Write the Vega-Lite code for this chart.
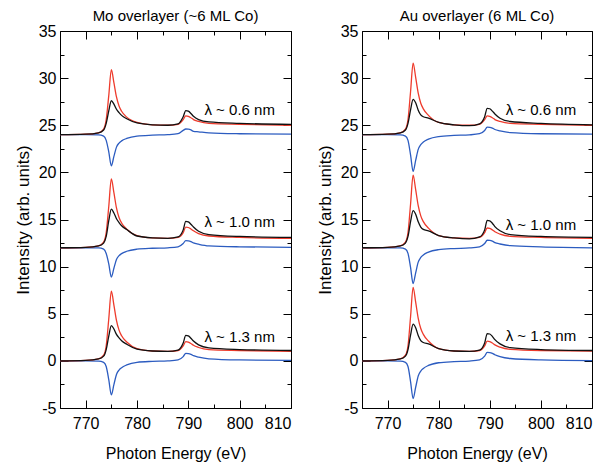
{
"$schema":"https://vega.github.io/schema/vega-lite/v6.json",
"background":"white",
"padding":{"left":13,"top":8,"right":5,"bottom":5},
"spacing":20,
"config":{"font":"Liberation Sans","view":{"stroke":"black","strokeWidth":1},
"axis":{"domain":false,"grid":false,"tickColor":"black","labelColor":"black","titleColor":"black","labelFontSize":16,"titleFontSize":17,"titleFontWeight":"normal","tickWidth":1,"labelFont":"Liberation Sans","titleFont":"Liberation Sans"},
"title":{"fontSize":15,"fontWeight":"normal","offset":-1,"frame":"group","font":"Liberation Sans","color":"black"}},
"datasets":{
"mo":[
{"g":24,"c":"b","x":765,"y":24},{"g":24,"c":"b","x":770,"y":24},{"g":24,"c":"b","x":772.5,"y":23.98},{"g":24,"c":"b","x":773.5,"y":23.85},{"g":24,"c":"b","x":774,"y":23.4},{"g":24,"c":"b","x":774.5,"y":22.18},{"g":24,"c":"b","x":775,"y":20.7},{"g":24,"c":"b","x":775.5,"y":21.69},{"g":24,"c":"b","x":776,"y":22.68},{"g":24,"c":"b","x":776.5,"y":23.11},{"g":24,"c":"b","x":777,"y":23.34},{"g":24,"c":"b","x":778,"y":23.6},{"g":24,"c":"b","x":780,"y":23.85},{"g":24,"c":"b","x":783,"y":23.95},{"g":24,"c":"b","x":786,"y":24},{"g":24,"c":"b","x":788,"y":24.1},{"g":24,"c":"b","x":789,"y":24.45},{"g":24,"c":"b","x":789.5,"y":24.6},{"g":24,"c":"b","x":790,"y":24.58},{"g":24,"c":"b","x":790.5,"y":24.5},{"g":24,"c":"b","x":791,"y":24.35},{"g":24,"c":"b","x":792,"y":24.3},{"g":24,"c":"b","x":794,"y":24.2},{"g":24,"c":"b","x":800,"y":24.1},{"g":24,"c":"b","x":810,"y":24.05},
{"g":24,"c":"r","x":765,"y":24},{"g":24,"c":"r","x":770,"y":24.05},{"g":24,"c":"r","x":772.5,"y":24.2},{"g":24,"c":"r","x":773.5,"y":24.6},{"g":24,"c":"r","x":774,"y":25.6},{"g":24,"c":"r","x":774.5,"y":28.14},{"g":24,"c":"r","x":775,"y":30.9},{"g":24,"c":"r","x":775.5,"y":29.52},{"g":24,"c":"r","x":776,"y":28},{"g":24,"c":"r","x":776.5,"y":27.04},{"g":24,"c":"r","x":777,"y":26.48},{"g":24,"c":"r","x":778,"y":25.86},{"g":24,"c":"r","x":780,"y":25.3},{"g":24,"c":"r","x":783,"y":25.05},{"g":24,"c":"r","x":786,"y":25},{"g":24,"c":"r","x":788,"y":25.1},{"g":24,"c":"r","x":789,"y":25.6},{"g":24,"c":"r","x":789.5,"y":26},{"g":24,"c":"r","x":790,"y":25.95},{"g":24,"c":"r","x":790.5,"y":25.8},{"g":24,"c":"r","x":791,"y":25.6},{"g":24,"c":"r","x":792,"y":25.4},{"g":24,"c":"r","x":794,"y":25.2},{"g":24,"c":"r","x":800,"y":25.1},{"g":24,"c":"r","x":810,"y":25},
{"g":24,"c":"k","x":765,"y":24},{"g":24,"c":"k","x":770,"y":24.05},{"g":24,"c":"k","x":772.5,"y":24.2},{"g":24,"c":"k","x":773.5,"y":24.5},{"g":24,"c":"k","x":774,"y":25.2},{"g":24,"c":"k","x":774.5,"y":26.52},{"g":24,"c":"k","x":775,"y":27.6},{"g":24,"c":"k","x":775.5,"y":27.24},{"g":24,"c":"k","x":776,"y":26.7},{"g":24,"c":"k","x":776.5,"y":26.34},{"g":24,"c":"k","x":777,"y":26.05},{"g":24,"c":"k","x":778,"y":25.69},{"g":24,"c":"k","x":780,"y":25.25},{"g":24,"c":"k","x":783,"y":25.05},{"g":24,"c":"k","x":786,"y":25},{"g":24,"c":"k","x":788,"y":25.15},{"g":24,"c":"k","x":789,"y":25.9},{"g":24,"c":"k","x":789.5,"y":26.55},{"g":24,"c":"k","x":790,"y":26.5},{"g":24,"c":"k","x":790.5,"y":26.25},{"g":24,"c":"k","x":791,"y":25.95},{"g":24,"c":"k","x":792,"y":25.6},{"g":24,"c":"k","x":794,"y":25.35},{"g":24,"c":"k","x":800,"y":25.2},{"g":24,"c":"k","x":810,"y":25.1},
{"g":12,"c":"b","x":765,"y":12},{"g":12,"c":"b","x":770,"y":12},{"g":12,"c":"b","x":772.5,"y":11.98},{"g":12,"c":"b","x":773.5,"y":11.85},{"g":12,"c":"b","x":774,"y":11.4},{"g":12,"c":"b","x":774.5,"y":10.29},{"g":12,"c":"b","x":775,"y":8.9},{"g":12,"c":"b","x":775.5,"y":9.83},{"g":12,"c":"b","x":776,"y":10.76},{"g":12,"c":"b","x":776.5,"y":11.16},{"g":12,"c":"b","x":777,"y":11.38},{"g":12,"c":"b","x":778,"y":11.63},{"g":12,"c":"b","x":780,"y":11.85},{"g":12,"c":"b","x":783,"y":11.95},{"g":12,"c":"b","x":786,"y":12},{"g":12,"c":"b","x":788,"y":12.1},{"g":12,"c":"b","x":789,"y":12.45},{"g":12,"c":"b","x":789.5,"y":12.76},{"g":12,"c":"b","x":790,"y":12.74},{"g":12,"c":"b","x":790.5,"y":12.66},{"g":12,"c":"b","x":791,"y":12.51},{"g":12,"c":"b","x":792,"y":12.38},{"g":12,"c":"b","x":794,"y":12.2},{"g":12,"c":"b","x":800,"y":12.1},{"g":12,"c":"b","x":810,"y":12.05},
{"g":12,"c":"r","x":765,"y":12},{"g":12,"c":"r","x":770,"y":12.05},{"g":12,"c":"r","x":772.5,"y":12.2},{"g":12,"c":"r","x":773.5,"y":12.6},{"g":12,"c":"r","x":774,"y":13.6},{"g":12,"c":"r","x":774.5,"y":16.38},{"g":12,"c":"r","x":775,"y":19.3},{"g":12,"c":"r","x":775.5,"y":17.84},{"g":12,"c":"r","x":776,"y":16.23},{"g":12,"c":"r","x":776.5,"y":15.21},{"g":12,"c":"r","x":777,"y":14.63},{"g":12,"c":"r","x":778,"y":13.97},{"g":12,"c":"r","x":780,"y":13.3},{"g":12,"c":"r","x":783,"y":13.05},{"g":12,"c":"r","x":786,"y":13},{"g":12,"c":"r","x":788,"y":13.1},{"g":12,"c":"r","x":789,"y":13.6},{"g":12,"c":"r","x":789.5,"y":14.2},{"g":12,"c":"r","x":790,"y":14.15},{"g":12,"c":"r","x":790.5,"y":14},{"g":12,"c":"r","x":791,"y":13.8},{"g":12,"c":"r","x":792,"y":13.5},{"g":12,"c":"r","x":794,"y":13.25},{"g":12,"c":"r","x":800,"y":13.1},{"g":12,"c":"r","x":810,"y":13},
{"g":12,"c":"k","x":765,"y":12},{"g":12,"c":"k","x":770,"y":12.05},{"g":12,"c":"k","x":772.5,"y":12.2},{"g":12,"c":"k","x":773.5,"y":12.5},{"g":12,"c":"k","x":774,"y":13.2},{"g":12,"c":"k","x":774.5,"y":14.87},{"g":12,"c":"k","x":775,"y":16.1},{"g":12,"c":"k","x":775.5,"y":15.69},{"g":12,"c":"k","x":776,"y":15.08},{"g":12,"c":"k","x":776.5,"y":14.67},{"g":12,"c":"k","x":777,"y":14.34},{"g":12,"c":"k","x":778,"y":13.93},{"g":12,"c":"k","x":780,"y":13.25},{"g":12,"c":"k","x":783,"y":13.05},{"g":12,"c":"k","x":786,"y":13},{"g":12,"c":"k","x":788,"y":13.15},{"g":12,"c":"k","x":789,"y":13.9},{"g":12,"c":"k","x":789.5,"y":14.8},{"g":12,"c":"k","x":790,"y":14.75},{"g":12,"c":"k","x":790.5,"y":14.5},{"g":12,"c":"k","x":791,"y":14.2},{"g":12,"c":"k","x":792,"y":13.75},{"g":12,"c":"k","x":794,"y":13.4},{"g":12,"c":"k","x":800,"y":13.2},{"g":12,"c":"k","x":810,"y":13.1},
{"g":0,"c":"b","x":765,"y":0},{"g":0,"c":"b","x":770,"y":0},{"g":0,"c":"b","x":772.5,"y":-0.02},{"g":0,"c":"b","x":773.5,"y":-0.15},{"g":0,"c":"b","x":774,"y":-0.6},{"g":0,"c":"b","x":774.5,"y":-1.98},{"g":0,"c":"b","x":775,"y":-3.6},{"g":0,"c":"b","x":775.5,"y":-2.52},{"g":0,"c":"b","x":776,"y":-1.44},{"g":0,"c":"b","x":776.5,"y":-0.97},{"g":0,"c":"b","x":777,"y":-0.72},{"g":0,"c":"b","x":778,"y":-0.43},{"g":0,"c":"b","x":780,"y":-0.15},{"g":0,"c":"b","x":783,"y":-0.05},{"g":0,"c":"b","x":786,"y":0},{"g":0,"c":"b","x":788,"y":0.1},{"g":0,"c":"b","x":789,"y":0.45},{"g":0,"c":"b","x":789.5,"y":0.8},{"g":0,"c":"b","x":790,"y":0.78},{"g":0,"c":"b","x":790.5,"y":0.7},{"g":0,"c":"b","x":791,"y":0.55},{"g":0,"c":"b","x":792,"y":0.4},{"g":0,"c":"b","x":794,"y":0.22},{"g":0,"c":"b","x":800,"y":0.1},{"g":0,"c":"b","x":810,"y":0.05},
{"g":0,"c":"r","x":765,"y":0},{"g":0,"c":"r","x":770,"y":0.05},{"g":0,"c":"r","x":772.5,"y":0.2},{"g":0,"c":"r","x":773.5,"y":0.6},{"g":0,"c":"r","x":774,"y":1.6},{"g":0,"c":"r","x":774.5,"y":4.44},{"g":0,"c":"r","x":775,"y":7.4},{"g":0,"c":"r","x":775.5,"y":5.92},{"g":0,"c":"r","x":776,"y":4.29},{"g":0,"c":"r","x":776.5,"y":3.26},{"g":0,"c":"r","x":777,"y":2.66},{"g":0,"c":"r","x":778,"y":2},{"g":0,"c":"r","x":780,"y":1.3},{"g":0,"c":"r","x":783,"y":1.05},{"g":0,"c":"r","x":786,"y":1},{"g":0,"c":"r","x":788,"y":1.1},{"g":0,"c":"r","x":789,"y":1.6},{"g":0,"c":"r","x":789.5,"y":2.05},{"g":0,"c":"r","x":790,"y":2},{"g":0,"c":"r","x":790.5,"y":1.85},{"g":0,"c":"r","x":791,"y":1.65},{"g":0,"c":"r","x":792,"y":1.42},{"g":0,"c":"r","x":794,"y":1.2},{"g":0,"c":"r","x":800,"y":1.1},{"g":0,"c":"r","x":810,"y":1},
{"g":0,"c":"k","x":765,"y":0},{"g":0,"c":"k","x":770,"y":0.05},{"g":0,"c":"k","x":772.5,"y":0.2},{"g":0,"c":"k","x":773.5,"y":0.5},{"g":0,"c":"k","x":774,"y":1.2},{"g":0,"c":"k","x":774.5,"y":2.63},{"g":0,"c":"k","x":775,"y":3.75},{"g":0,"c":"k","x":775.5,"y":3.38},{"g":0,"c":"k","x":776,"y":2.81},{"g":0,"c":"k","x":776.5,"y":2.44},{"g":0,"c":"k","x":777,"y":2.14},{"g":0,"c":"k","x":778,"y":1.76},{"g":0,"c":"k","x":780,"y":1.25},{"g":0,"c":"k","x":783,"y":1.05},{"g":0,"c":"k","x":786,"y":1},{"g":0,"c":"k","x":788,"y":1.15},{"g":0,"c":"k","x":789,"y":1.9},{"g":0,"c":"k","x":789.5,"y":2.7},{"g":0,"c":"k","x":790,"y":2.65},{"g":0,"c":"k","x":790.5,"y":2.4},{"g":0,"c":"k","x":791,"y":2.1},{"g":0,"c":"k","x":792,"y":1.7},{"g":0,"c":"k","x":794,"y":1.38},{"g":0,"c":"k","x":800,"y":1.2},{"g":0,"c":"k","x":810,"y":1.1}
],
"au":[
{"g":24,"c":"b","x":765,"y":24},{"g":24,"c":"b","x":770,"y":24},{"g":24,"c":"b","x":772.5,"y":23.98},{"g":24,"c":"b","x":773.5,"y":23.85},{"g":24,"c":"b","x":774,"y":23.4},{"g":24,"c":"b","x":774.5,"y":21.85},{"g":24,"c":"b","x":775,"y":20.1},{"g":24,"c":"b","x":775.5,"y":21.27},{"g":24,"c":"b","x":776,"y":22.44},{"g":24,"c":"b","x":776.5,"y":22.95},{"g":24,"c":"b","x":777,"y":23.22},{"g":24,"c":"b","x":778,"y":23.53},{"g":24,"c":"b","x":780,"y":23.8},{"g":24,"c":"b","x":783,"y":23.92},{"g":24,"c":"b","x":786,"y":23.98},{"g":24,"c":"b","x":788,"y":24.1},{"g":24,"c":"b","x":789,"y":24.45},{"g":24,"c":"b","x":789.5,"y":24.8},{"g":24,"c":"b","x":790,"y":24.78},{"g":24,"c":"b","x":790.5,"y":24.7},{"g":24,"c":"b","x":791,"y":24.55},{"g":24,"c":"b","x":792,"y":24.4},{"g":24,"c":"b","x":794,"y":24.22},{"g":24,"c":"b","x":800,"y":24.1},{"g":24,"c":"b","x":810,"y":24.05},
{"g":24,"c":"r","x":765,"y":24},{"g":24,"c":"r","x":770,"y":24.05},{"g":24,"c":"r","x":772.5,"y":24.2},{"g":24,"c":"r","x":773.5,"y":24.6},{"g":24,"c":"r","x":774,"y":25.6},{"g":24,"c":"r","x":774.5,"y":28.56},{"g":24,"c":"r","x":775,"y":31.6},{"g":24,"c":"r","x":775.5,"y":30.08},{"g":24,"c":"r","x":776,"y":28.41},{"g":24,"c":"r","x":776.5,"y":27.34},{"g":24,"c":"r","x":777,"y":26.74},{"g":24,"c":"r","x":778,"y":26.05},{"g":24,"c":"r","x":780,"y":25.3},{"g":24,"c":"r","x":783,"y":25.05},{"g":24,"c":"r","x":786,"y":25},{"g":24,"c":"r","x":788,"y":25.1},{"g":24,"c":"r","x":789,"y":25.6},{"g":24,"c":"r","x":789.5,"y":26},{"g":24,"c":"r","x":790,"y":25.95},{"g":24,"c":"r","x":790.5,"y":25.8},{"g":24,"c":"r","x":791,"y":25.6},{"g":24,"c":"r","x":792,"y":25.4},{"g":24,"c":"r","x":794,"y":25.2},{"g":24,"c":"r","x":800,"y":25.1},{"g":24,"c":"r","x":810,"y":25},
{"g":24,"c":"k","x":765,"y":24},{"g":24,"c":"k","x":770,"y":24.05},{"g":24,"c":"k","x":772.5,"y":24.2},{"g":24,"c":"k","x":773.5,"y":24.5},{"g":24,"c":"k","x":774,"y":25.2},{"g":24,"c":"k","x":774.5,"y":26.63},{"g":24,"c":"k","x":775,"y":27.75},{"g":24,"c":"k","x":775.5,"y":27.38},{"g":24,"c":"k","x":776,"y":26.6},{"g":24,"c":"k","x":776.5,"y":26.1},{"g":24,"c":"k","x":777,"y":25.9},{"g":24,"c":"k","x":778,"y":25.75},{"g":24,"c":"k","x":780,"y":25.3},{"g":24,"c":"k","x":783,"y":25.05},{"g":24,"c":"k","x":786,"y":24.95},{"g":24,"c":"k","x":788,"y":25.15},{"g":24,"c":"k","x":789,"y":25.9},{"g":24,"c":"k","x":789.5,"y":26.8},{"g":24,"c":"k","x":790,"y":26.75},{"g":24,"c":"k","x":790.5,"y":26.5},{"g":24,"c":"k","x":791,"y":26.2},{"g":24,"c":"k","x":792,"y":25.75},{"g":24,"c":"k","x":794,"y":25.4},{"g":24,"c":"k","x":800,"y":25.2},{"g":24,"c":"k","x":810,"y":25.05},
{"g":12,"c":"b","x":765,"y":12},{"g":12,"c":"b","x":770,"y":12},{"g":12,"c":"b","x":772.5,"y":11.98},{"g":12,"c":"b","x":773.5,"y":11.85},{"g":12,"c":"b","x":774,"y":11.4},{"g":12,"c":"b","x":774.5,"y":9.91},{"g":12,"c":"b","x":775,"y":8.2},{"g":12,"c":"b","x":775.5,"y":9.34},{"g":12,"c":"b","x":776,"y":10.48},{"g":12,"c":"b","x":776.5,"y":10.97},{"g":12,"c":"b","x":777,"y":11.24},{"g":12,"c":"b","x":778,"y":11.54},{"g":12,"c":"b","x":780,"y":11.8},{"g":12,"c":"b","x":783,"y":11.92},{"g":12,"c":"b","x":786,"y":11.98},{"g":12,"c":"b","x":788,"y":12.1},{"g":12,"c":"b","x":789,"y":12.45},{"g":12,"c":"b","x":789.5,"y":12.8},{"g":12,"c":"b","x":790,"y":12.78},{"g":12,"c":"b","x":790.5,"y":12.7},{"g":12,"c":"b","x":791,"y":12.55},{"g":12,"c":"b","x":792,"y":12.4},{"g":12,"c":"b","x":794,"y":12.22},{"g":12,"c":"b","x":800,"y":12.1},{"g":12,"c":"b","x":810,"y":12},
{"g":12,"c":"r","x":765,"y":12},{"g":12,"c":"r","x":770,"y":12.05},{"g":12,"c":"r","x":772.5,"y":12.2},{"g":12,"c":"r","x":773.5,"y":12.6},{"g":12,"c":"r","x":774,"y":13.6},{"g":12,"c":"r","x":774.5,"y":16.62},{"g":12,"c":"r","x":775,"y":19.7},{"g":12,"c":"r","x":775.5,"y":18.16},{"g":12,"c":"r","x":776,"y":16.47},{"g":12,"c":"r","x":776.5,"y":15.39},{"g":12,"c":"r","x":777,"y":14.77},{"g":12,"c":"r","x":778,"y":14.08},{"g":12,"c":"r","x":780,"y":13.3},{"g":12,"c":"r","x":783,"y":13.05},{"g":12,"c":"r","x":786,"y":13},{"g":12,"c":"r","x":788,"y":13.1},{"g":12,"c":"r","x":789,"y":13.6},{"g":12,"c":"r","x":789.5,"y":14.1},{"g":12,"c":"r","x":790,"y":14.05},{"g":12,"c":"r","x":790.5,"y":13.9},{"g":12,"c":"r","x":791,"y":13.7},{"g":12,"c":"r","x":792,"y":13.45},{"g":12,"c":"r","x":794,"y":13.22},{"g":12,"c":"r","x":800,"y":13.1},{"g":12,"c":"r","x":810,"y":13},
{"g":12,"c":"k","x":765,"y":12},{"g":12,"c":"k","x":770,"y":12.05},{"g":12,"c":"k","x":772.5,"y":12.2},{"g":12,"c":"k","x":773.5,"y":12.5},{"g":12,"c":"k","x":774,"y":13.2},{"g":12,"c":"k","x":774.5,"y":14.77},{"g":12,"c":"k","x":775,"y":15.95},{"g":12,"c":"k","x":775.5,"y":15.56},{"g":12,"c":"k","x":776,"y":14.75},{"g":12,"c":"k","x":776.5,"y":14.2},{"g":12,"c":"k","x":777,"y":13.95},{"g":12,"c":"k","x":778,"y":13.8},{"g":12,"c":"k","x":780,"y":13.3},{"g":12,"c":"k","x":783,"y":13.05},{"g":12,"c":"k","x":786,"y":12.95},{"g":12,"c":"k","x":788,"y":13.15},{"g":12,"c":"k","x":789,"y":13.9},{"g":12,"c":"k","x":789.5,"y":14.9},{"g":12,"c":"k","x":790,"y":14.85},{"g":12,"c":"k","x":790.5,"y":14.6},{"g":12,"c":"k","x":791,"y":14.25},{"g":12,"c":"k","x":792,"y":13.8},{"g":12,"c":"k","x":794,"y":13.4},{"g":12,"c":"k","x":800,"y":13.2},{"g":12,"c":"k","x":810,"y":13.1},
{"g":0,"c":"b","x":765,"y":0},{"g":0,"c":"b","x":770,"y":0},{"g":0,"c":"b","x":772.5,"y":-0.02},{"g":0,"c":"b","x":773.5,"y":-0.15},{"g":0,"c":"b","x":774,"y":-0.6},{"g":0,"c":"b","x":774.5,"y":-2.2},{"g":0,"c":"b","x":775,"y":-4},{"g":0,"c":"b","x":775.5,"y":-2.8},{"g":0,"c":"b","x":776,"y":-1.6},{"g":0,"c":"b","x":776.5,"y":-1.08},{"g":0,"c":"b","x":777,"y":-0.8},{"g":0,"c":"b","x":778,"y":-0.48},{"g":0,"c":"b","x":780,"y":-0.2},{"g":0,"c":"b","x":783,"y":-0.08},{"g":0,"c":"b","x":786,"y":-0.02},{"g":0,"c":"b","x":788,"y":0.1},{"g":0,"c":"b","x":789,"y":0.5},{"g":0,"c":"b","x":789.5,"y":0.9},{"g":0,"c":"b","x":790,"y":0.88},{"g":0,"c":"b","x":790.5,"y":0.8},{"g":0,"c":"b","x":791,"y":0.65},{"g":0,"c":"b","x":792,"y":0.45},{"g":0,"c":"b","x":794,"y":0.25},{"g":0,"c":"b","x":800,"y":0.1},{"g":0,"c":"b","x":810,"y":0.03},
{"g":0,"c":"r","x":765,"y":0},{"g":0,"c":"r","x":770,"y":0.05},{"g":0,"c":"r","x":772.5,"y":0.2},{"g":0,"c":"r","x":773.5,"y":0.6},{"g":0,"c":"r","x":774,"y":1.6},{"g":0,"c":"r","x":774.5,"y":4.68},{"g":0,"c":"r","x":775,"y":7.8},{"g":0,"c":"r","x":775.5,"y":6.24},{"g":0,"c":"r","x":776,"y":4.52},{"g":0,"c":"r","x":776.5,"y":3.43},{"g":0,"c":"r","x":777,"y":2.81},{"g":0,"c":"r","x":778,"y":2.11},{"g":0,"c":"r","x":780,"y":1.3},{"g":0,"c":"r","x":783,"y":1.05},{"g":0,"c":"r","x":786,"y":1},{"g":0,"c":"r","x":788,"y":1.1},{"g":0,"c":"r","x":789,"y":1.6},{"g":0,"c":"r","x":789.5,"y":2.1},{"g":0,"c":"r","x":790,"y":2.05},{"g":0,"c":"r","x":790.5,"y":1.9},{"g":0,"c":"r","x":791,"y":1.7},{"g":0,"c":"r","x":792,"y":1.45},{"g":0,"c":"r","x":794,"y":1.22},{"g":0,"c":"r","x":800,"y":1.1},{"g":0,"c":"r","x":810,"y":1.05},
{"g":0,"c":"k","x":765,"y":0},{"g":0,"c":"k","x":770,"y":0.05},{"g":0,"c":"k","x":772.5,"y":0.2},{"g":0,"c":"k","x":773.5,"y":0.5},{"g":0,"c":"k","x":774,"y":1.2},{"g":0,"c":"k","x":774.5,"y":2.73},{"g":0,"c":"k","x":775,"y":3.9},{"g":0,"c":"k","x":775.5,"y":3.51},{"g":0,"c":"k","x":776,"y":2.7},{"g":0,"c":"k","x":776.5,"y":2.15},{"g":0,"c":"k","x":777,"y":1.95},{"g":0,"c":"k","x":778,"y":1.8},{"g":0,"c":"k","x":780,"y":1.3},{"g":0,"c":"k","x":783,"y":1.05},{"g":0,"c":"k","x":786,"y":1},{"g":0,"c":"k","x":788,"y":1.15},{"g":0,"c":"k","x":789,"y":1.9},{"g":0,"c":"k","x":789.5,"y":2.9},{"g":0,"c":"k","x":790,"y":2.85},{"g":0,"c":"k","x":790.5,"y":2.6},{"g":0,"c":"k","x":791,"y":2.25},{"g":0,"c":"k","x":792,"y":1.8},{"g":0,"c":"k","x":794,"y":1.4},{"g":0,"c":"k","x":800,"y":1.2},{"g":0,"c":"k","x":810,"y":1.1}
],
"moLab":[{"x":800,"y":26.6,"t":"λ ~ 0.6 nm"},{"x":800,"y":14.7,"t":"λ ~ 1.0 nm"},{"x":800,"y":2.5,"t":"λ ~ 1.3 nm"}],
"auLab":[{"x":800,"y":26.6,"t":"λ ~ 0.6 nm"},{"x":800,"y":14.4,"t":"λ ~ 1.0 nm"},{"x":800,"y":2.6,"t":"λ ~ 1.3 nm"}]
},
"hconcat":[
{"width":231,"height":377,"title":"Mo overlayer (~6 ML Co)",
"layer":[
{"data":{"name":"mo"},"mark":{"type":"line","strokeWidth":1.3,"interpolate":"monotone"},
"encoding":{
"x":{"field":"x","type":"quantitative","scale":{"domain":[765,810],"nice":false,"zero":false},
"axis":{"orient":"bottom","values":[765,770,775,780,785,790,795,800,805,810],"labelExpr":"datum.value % 10 === 0 ? '' + datum.value : ''","tickSize":{"condition":{"test":"datum.value % 10 === 0","value":-8},"value":-4},"labelPadding":15,"title":"Photon Energy (eV)","titleFontSize":16,"titlePadding":14}},
"y":{"field":"y","type":"quantitative","scale":{"domain":[-5,35],"nice":false,"zero":false},
"axis":{"orient":"left","values":[-5,-2.5,0,2.5,5,7.5,10,12.5,15,17.5,20,22.5,25,27.5,30,32.5,35],"labelExpr":"datum.value % 5 === 0 ? '' + datum.value : ''","tickSize":{"condition":{"test":"datum.value % 5 === 0","value":-8},"value":-4},"labelPadding":12,"title":"Intensity (arb. units)","titlePadding":6}},
"color":{"field":"c","type":"nominal","scale":{"domain":["b","r","k"],"range":["#2c5cc0","#ee3b2c","#111111"]},"legend":null},
"detail":{"field":"g","type":"nominal"}}},
{"data":{"name":"moLab"},"mark":{"type":"text","fontSize":15,"align":"center","baseline":"middle","font":"Liberation Sans","color":"black"},
"encoding":{
"x":{"field":"x","type":"quantitative","axis":{"orient":"top","values":[765,770,775,780,785,790,795,800,805,810],"labels":false,"title":null,"tickSize":{"condition":{"test":"datum.value % 10 === 0","value":-8},"value":-4}}},
"y":{"field":"y","type":"quantitative","axis":{"orient":"right","values":[-5,-2.5,0,2.5,5,7.5,10,12.5,15,17.5,20,22.5,25,27.5,30,32.5,35],"labels":false,"title":null,"tickSize":{"condition":{"test":"datum.value % 5 === 0","value":-8},"value":-4}}},
"text":{"field":"t"}}}
],
"resolve":{"axis":{"x":"independent","y":"independent"}}},
{"width":230,"height":377,"title":"Au overlayer (6 ML Co)",
"layer":[
{"data":{"name":"au"},"mark":{"type":"line","strokeWidth":1.3,"interpolate":"monotone"},
"encoding":{
"x":{"field":"x","type":"quantitative","scale":{"domain":[765,810],"nice":false,"zero":false},
"axis":{"orient":"bottom","values":[765,770,775,780,785,790,795,800,805,810],"labelExpr":"datum.value % 10 === 0 ? '' + datum.value : ''","tickSize":{"condition":{"test":"datum.value % 10 === 0","value":-8},"value":-4},"labelPadding":15,"title":"Photon Energy (eV)","titleFontSize":16,"titlePadding":14}},
"y":{"field":"y","type":"quantitative","scale":{"domain":[-5,35],"nice":false,"zero":false},
"axis":{"orient":"left","values":[-5,-2.5,0,2.5,5,7.5,10,12.5,15,17.5,20,22.5,25,27.5,30,32.5,35],"labelExpr":"datum.value % 5 === 0 ? '' + datum.value : ''","tickSize":{"condition":{"test":"datum.value % 5 === 0","value":-8},"value":-4},"labelPadding":12,"title":"Intensity (arb. units)","titlePadding":6}},
"color":{"field":"c","type":"nominal","scale":{"domain":["b","r","k"],"range":["#2c5cc0","#ee3b2c","#111111"]},"legend":null},
"detail":{"field":"g","type":"nominal"}}},
{"data":{"name":"auLab"},"mark":{"type":"text","fontSize":15,"align":"center","baseline":"middle","font":"Liberation Sans","color":"black"},
"encoding":{
"x":{"field":"x","type":"quantitative","axis":{"orient":"top","values":[765,770,775,780,785,790,795,800,805,810],"labels":false,"title":null,"tickSize":{"condition":{"test":"datum.value % 10 === 0","value":-8},"value":-4}}},
"y":{"field":"y","type":"quantitative","axis":{"orient":"right","values":[-5,-2.5,0,2.5,5,7.5,10,12.5,15,17.5,20,22.5,25,27.5,30,32.5,35],"labels":false,"title":null,"tickSize":{"condition":{"test":"datum.value % 5 === 0","value":-8},"value":-4}}},
"text":{"field":"t"}}}
],
"resolve":{"axis":{"x":"independent","y":"independent"}}}
]
}
